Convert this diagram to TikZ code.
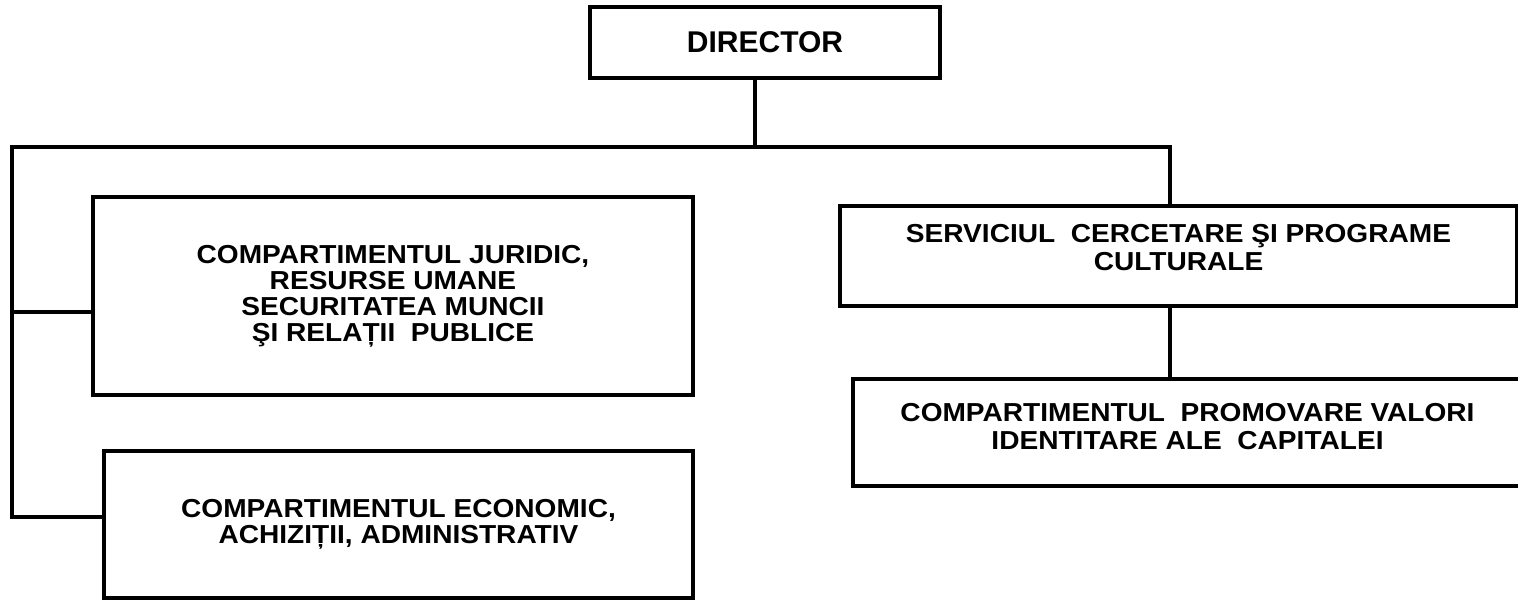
\documentclass[tikz,border=0pt]{standalone}
\usepackage{fontspec}
\setmainfont{Liberation Sans}[FakeStretch=1.08]
\newfontfamily\dirfont{Liberation Sans}
\usetikzlibrary{calc}

\begin{document}
\begin{tikzpicture}
  [x=1pt,y=-1pt,line width=3.2pt,
   every node/.style={draw,rectangle,line width=3.2pt,inner sep=0pt,align=center,
     font=\bfseries\fontsize{26}{26}\selectfont},
   wide/.style={font=\bfseries\fontsize{26}{28}\selectfont}]
  \clip (0,0) rectangle (1518,601);
  \node[minimum width=350pt,minimum height=71pt,font=\dirfont\bfseries\fontsize{30}{30}\selectfont]
    (dir) at (765,42.5) {DIRECTOR};
  \node[minimum width=600pt,minimum height=198pt] (jur) at (393,296)
    {COMPARTIMENTUL JURIDIC,\\ RESURSE UMANE\\ SECURITATEA MUNCII\\ ŞI RELAȚII~ PUBLICE};
  \node[minimum width=589pt,minimum height=147pt] (eco) at (398.5,524.5)
    {COMPARTIMENTUL ECONOMIC,\\ ACHIZIȚII, ADMINISTRATIV};
  \node[wide,minimum width=677pt,minimum height=100pt] (serv) at (1178.5,256)
    {SERVICIUL~ CERCETARE ŞI PROGRAME\\ CULTURALE\\[-10pt]~};
  \node[wide,minimum width=669pt,minimum height=107pt] (promo) at (1187.5,432.5)
    {COMPARTIMENTUL~ PROMOVARE VALORI\\ IDENTITARE ALE~ CAPITALEI\\[-15pt]~};
  \coordinate (lt) at (12,147);
  \coordinate (rt) at (1170,147);
  \draw ([xshift=-10pt]dir.south) -- ([xshift=-10pt]dir.south |- lt);
  \draw (serv.north -| rt) -- (rt) -- (lt) |- ([yshift=7.5pt]eco.west);
  \draw ([yshift=-16pt]jur.west -| lt) -- ([yshift=-16pt]jur.west);
  \draw (serv.south -| rt) -- (promo.north -| rt);
\end{tikzpicture}
\end{document}
